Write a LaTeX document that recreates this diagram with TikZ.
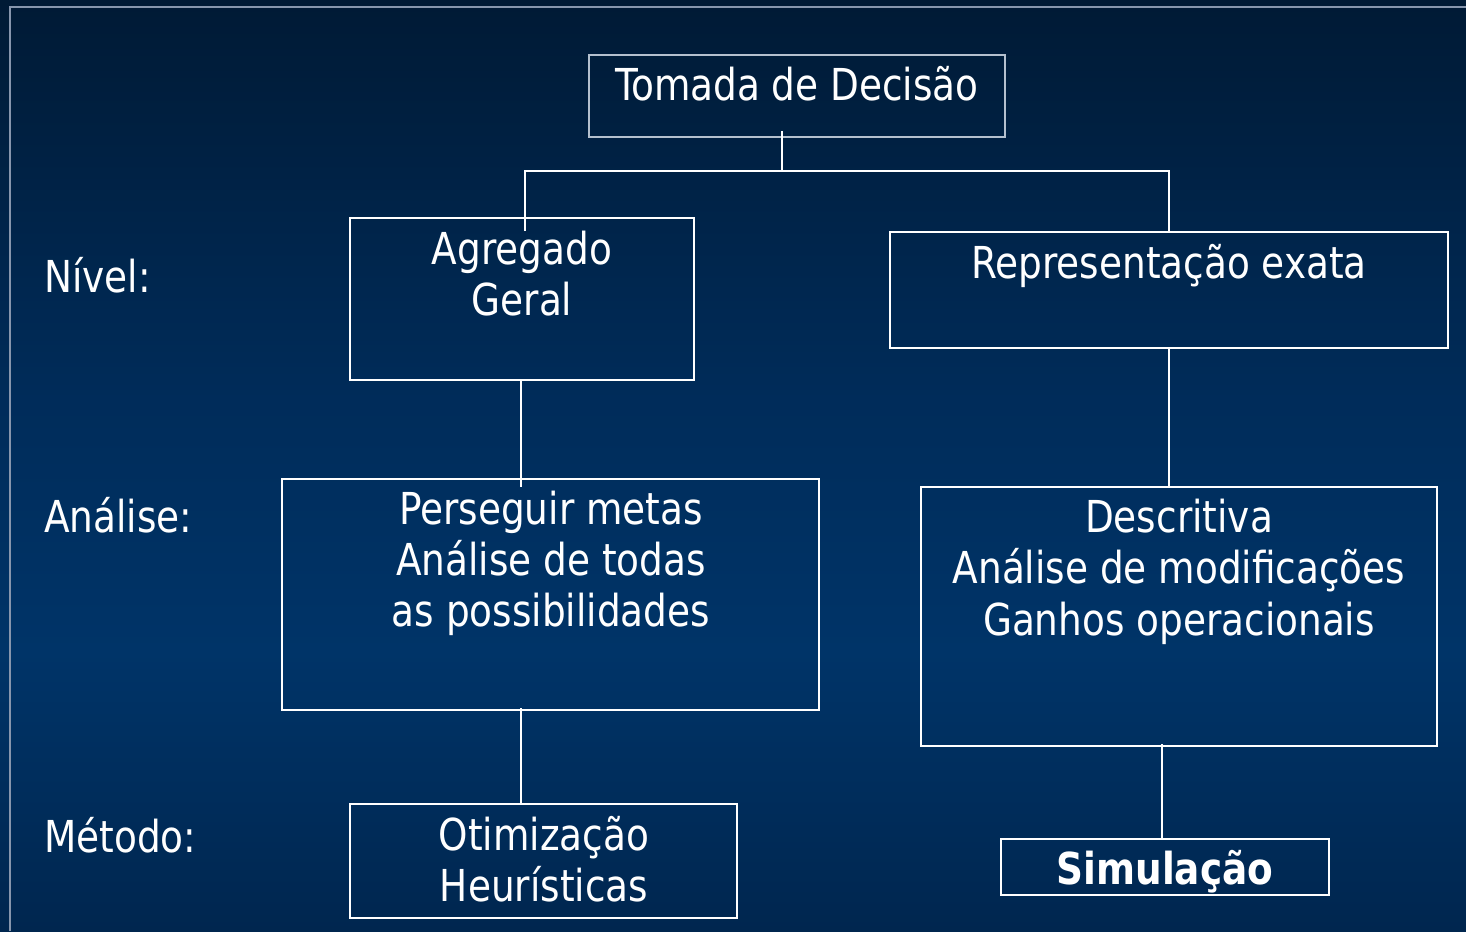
\documentclass[tikz,border=0pt]{standalone}
\usepackage{fontspec}
\setmainfont[FakeStretch=0.945]{DejaVu Sans Condensed}
\usetikzlibrary{calc}
\definecolor{bgtop}{HTML}{001A35}
\definecolor{bgup}{HTML}{002C5A}
\definecolor{bgmid}{HTML}{003468}
\definecolor{bgbot}{HTML}{00264F}
\definecolor{framecol}{HTML}{8796AD}
\definecolor{topline}{HTML}{B4C0CE}
\pgfdeclareverticalshading{bgsh}{100bp}{color(0bp)=(bgbot); color(25bp)=(bgbot); color(40bp)=(bgmid); color(53.5bp)=(bgup); color(75bp)=(bgtop); color(100bp)=(bgtop)}
\begin{document}
\begin{tikzpicture}[x=0.5pt,y=-0.5pt,
  box/.style={draw=white,line width=1pt,inner sep=0pt,rectangle},
  txt/.style={text=white,font=\fontsize{22}{25.5}\selectfont,align=center,inner sep=0pt},
  lbl/.style={text=white,font=\fontsize{22}{25.5}\selectfont,anchor=base west,inner sep=0pt},
  conn/.style={draw=white,line width=1pt}]
\useasboundingbox (0,0) rectangle (1466,931);
\shade[shading=bgsh] (0,0) rectangle (1466,931);
\draw[framecol,line width=1pt] (10,931) -- (10,7) -- (1466,7);

% boxes
\node[box,draw=topline,minimum width=208pt,minimum height=41pt] (top) at (797,96) {};
\node[box,minimum width=172pt,minimum height=81pt] (agg) at (522,299) {};
\node[box,minimum width=279pt,minimum height=58pt] (rep) at (1169,290) {};
\node[box,minimum width=268.5pt,minimum height=115.5pt] (per) at (550.5,594.5) {};
\node[box,minimum width=258pt,minimum height=129.5pt] (des) at (1179,616.5) {};
\node[box,minimum width=193.5pt,minimum height=57pt] (oti) at (543.5,861) {};
\node[box,minimum width=164pt,minimum height=28pt] (sim) at (1165,867) {};

% texts
\node[txt,anchor=base] (topT) at (797,101) {Tomada de Decisão};
\node[txt,anchor=base] (aggT1) at (522,264) {Agregado};
\node[txt,anchor=base] (aggT2) at (522,315) {Geral};
\node[txt,anchor=base] (repT) at (1169,278) {Representação exata};
\node[txt,anchor=base] (perT1) at (551,524) {Perseguir metas};
\node[txt,anchor=base] (perT2) at (551,575) {Análise de todas};
\node[txt,anchor=base] (perT3) at (551,626) {as possibilidades};
\node[txt,anchor=base] (desT1) at (1179,532) {Descritiva};
\node[txt,anchor=base] (desT2) at (1179,583) {Análise de modificações};
\node[txt,anchor=base] (desT3) at (1179,635) {Ganhos operacionais};
\node[txt,anchor=base] (otiT1) at (544,850) {Otimização};
\node[txt,anchor=base] (otiT2) at (544,901) {Heurísticas};
\node[txt,anchor=base,font=\fontsize{22}{25.5}\selectfont\bfseries] (simT) at (1165,884) {Simulação};

% side labels
\node[lbl] (nivel) at (44,292) {Nível:};
\node[lbl] (analise) at (44,532) {Análise:};
\node[lbl] (metodo) at (44,852) {Método:};

% connectors
\coordinate (jC) at (782,171);
\coordinate (jL) at (525,171);
\coordinate (jR) at (1169,171);
\draw[conn] ([yshift=3.5pt]top.south -| jC) -- (jC);
\draw[conn] ([yshift=-7pt]agg.north -| jL) -- (jL) -- (jR) -- (rep.north -| jR);
\draw[conn] ([xshift=-0.5pt]agg.south) -- ([xshift=-0.5pt,yshift=-4.5pt]agg.south |- per.north);
\draw[conn] ([xshift=-0.5pt,yshift=1.5pt]per.south -| agg.south) -- ([xshift=-0.5pt]agg.south |- oti.north);
\draw[conn] (rep.south) -- (rep.south |- des.north);
\draw[conn] ([xshift=-1.5pt,yshift=1.5pt]des.south -| sim.north) -- ([xshift=-1.5pt]sim.north);
\end{tikzpicture}
\end{document}
